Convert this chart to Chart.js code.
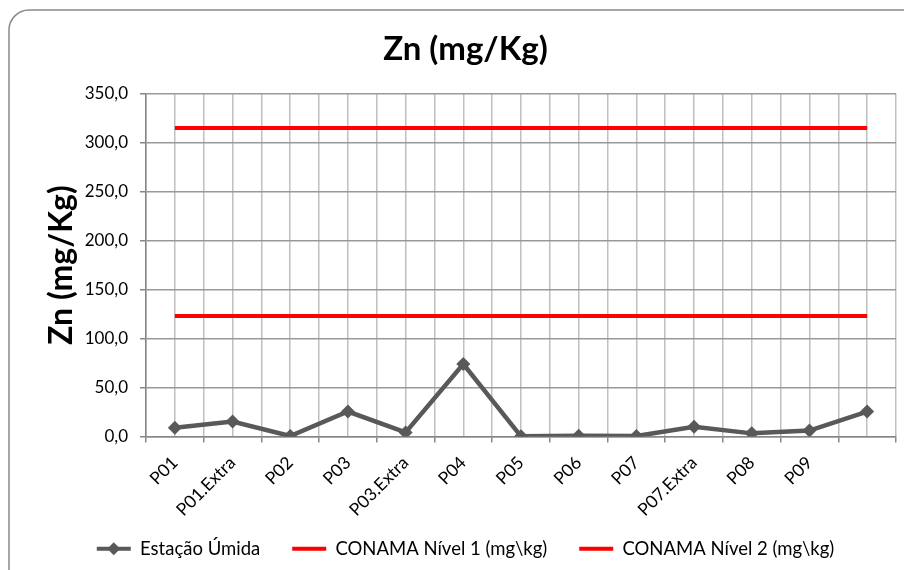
<!DOCTYPE html>
<html>
<head>
<meta charset="utf-8">
<script src="https://cdn.jsdelivr.net/npm/chart.js@4.4.1/dist/chart.umd.min.js"></script>
<style>
  html, body { margin: 0; padding: 0; background: #fff; }
  #wrap { width: 904px; height: 570px; position: relative; }
</style>
</head>
<body>
<div id="wrap"><canvas id="c" width="904" height="570"></canvas></div>
<script>
// Sampling points (the last slot has no label on the axis)
const categories = ['P01', 'P01.Extra', 'P02', 'P03', 'P03.Extra', 'P04', 'P05', 'P06', 'P07', 'P07.Extra', 'P08', 'P09', ''];
// Zn concentration, wet season (mg/Kg)
const estacaoUmida = [9.0, 15.2, 0.5, 25.5, 4.2, 74.0, 0.2, 0.8, 0.5, 10.0, 3.2, 6.0, 25.5];
// CONAMA reference levels (mg/kg)
const conamaNivel1 = [123, 123, 123, 123, 123, 123, 123, 123, 123, 123, 123, 123, 123];
const conamaNivel2 = [315, 315, 315, 315, 315, 315, 315, 315, 315, 315, 315, 315, 315];
// Value axis ticks
const yTicks = [0, 50, 100, 150, 200, 250, 300, 350];

const FONT = 'Lato, "Open Sans", "DejaVu Sans", sans-serif';
const toPoints = arr => arr.map((v, i) => ({ x: i, y: v }));
const fmt = v => Number(v).toFixed(1).replace('.', ',');

// Rounded frame around the whole chart
const framePlugin = {
  id: 'frame',
  beforeDraw(chart) {
    const ctx = chart.ctx;
    ctx.save();
    ctx.fillStyle = '#fff';
    ctx.fillRect(0, 0, chart.width, chart.height);
    ctx.strokeStyle = '#8a8a8a';
    ctx.lineWidth = 1.5;
    ctx.beginPath();
    ctx.roundRect(9, 10, 1000, 1000, 20);
    ctx.stroke();
    ctx.restore();
  }
};

// Diamond marker on the line-series legend entry
const legendMarker = {
  id: 'legendMarker',
  afterDraw(chart) {
    const lg = chart.legend;
    if (!lg || !lg.legendHitBoxes || !lg.legendHitBoxes.length) return;
    const hb = lg.legendHitBoxes[0];
    const lab = lg.options.labels;
    const fs = lab.font.size;
    const ctx = chart.ctx;
    const cx = hb.left + lab.boxWidth / 2;
    const cy = hb.top + Math.max((fs - lab.boxHeight) / 2, 0) + lab.boxHeight / 2;
    const r = 6.5;
    ctx.save();
    ctx.fillStyle = '#595959';
    ctx.beginPath();
    ctx.moveTo(cx, cy - r);
    ctx.lineTo(cx + r, cy);
    ctx.lineTo(cx, cy + r);
    ctx.lineTo(cx - r, cy);
    ctx.closePath();
    ctx.fill();
    ctx.restore();
  }
};

new Chart(document.getElementById('c'), {
  type: 'line',
  data: {
    datasets: [
      {
        label: 'Estação Úmida',
        data: toPoints(estacaoUmida),
        borderColor: '#595959',
        backgroundColor: '#595959',
        borderWidth: 4.5,
        pointStyle: 'rectRot',
        pointRadius: 7,
        pointBackgroundColor: '#595959',
        pointBorderWidth: 0,
        tension: 0
      },
      {
        label: 'CONAMA Nível 1 (mg\\kg)',
        data: toPoints(conamaNivel1),
        borderColor: '#ff0000',
        backgroundColor: '#ff0000',
        borderWidth: 4,
        pointRadius: 0,
        tension: 0
      },
      {
        label: 'CONAMA Nível 2 (mg\\kg)',
        data: toPoints(conamaNivel2),
        borderColor: '#ff0000',
        backgroundColor: '#ff0000',
        borderWidth: 4,
        pointRadius: 0,
        tension: 0
      }
    ]
  },
  options: {
    responsive: false,
    animation: false,
    devicePixelRatio: 1,
    layout: { padding: { left: 27, right: 0, top: 0, bottom: 2 } },
    plugins: {
      title: {
        display: true,
        text: 'Zn (mg/Kg)',
        color: '#000',
        font: { family: FONT, size: 33, weight: 'bold' },
        padding: { top: 30, bottom: 24 }
      },
      legend: {
        position: 'bottom',
        labels: {
          color: '#000',
          font: { family: FONT, size: 18.5 },
          boxWidth: 34,
          boxHeight: 4,
          padding: 32,
          generateLabels(chart) {
            return chart.data.datasets.map((ds, i) => ({
              text: ds.label,
              fillStyle: ds.borderColor,
              strokeStyle: ds.borderColor,
              lineWidth: 0,
              hidden: false,
              datasetIndex: i
            }));
          }
        }
      },
      tooltip: { enabled: false }
    },
    scales: {
      x: {
        type: 'linear',
        min: -0.5,
        max: 12.5,
        afterBuildTicks(scale) {
          const t = [];
          for (let i = 0; i <= categories.length * 2; i++) t.push({ value: -0.5 + i * 0.5 });
          scale.ticks = t;
        },
        afterFit(scale) {
          scale.height = 71;
          scale.paddingLeft = 0;
          scale.paddingRight = 8;
          // rotated labels may run past the axis box; let them show in full
          scale._computeLabelArea = () => null;
        },
        ticks: {
          autoSkip: false,
          minRotation: 45,
          maxRotation: 45,
          padding: 10,
          color: '#000',
          font: { family: FONT, size: 17.5 },
          callback: v => (Number.isInteger(v) ? categories[v] : '')
        },
        grid: {
          color: '#c0c0c0',
          lineWidth: 1.5,
          tickLength: 6,
          tickColor: c => (c.tick && Number.isInteger(c.tick.value) ? 'rgba(0,0,0,0)' : '#868686')
        },
        border: { color: '#868686', width: 1.5 }
      },
      y: {
        min: 0,
        max: 350,
        afterBuildTicks(scale) { scale.ticks = yTicks.map(v => ({ value: v })); },
        afterFit(scale) { scale.width = 119; },
        ticks: {
          padding: 12,
          color: '#000',
          font: { family: FONT, size: 17 },
          callback: v => fmt(v)
        },
        grid: { color: '#999999', lineWidth: 1.5, tickLength: 6, tickColor: '#868686' },
        border: { color: '#868686', width: 1.5 },
        title: {
          display: true,
          text: 'Zn (mg/Kg)',
          color: '#000',
          font: { family: FONT, size: 32, weight: 'bold' },
          padding: { top: 15, bottom: 0 }
        }
      }
    }
  },
  plugins: [framePlugin, legendMarker]
});
</script>
</body>
</html>
